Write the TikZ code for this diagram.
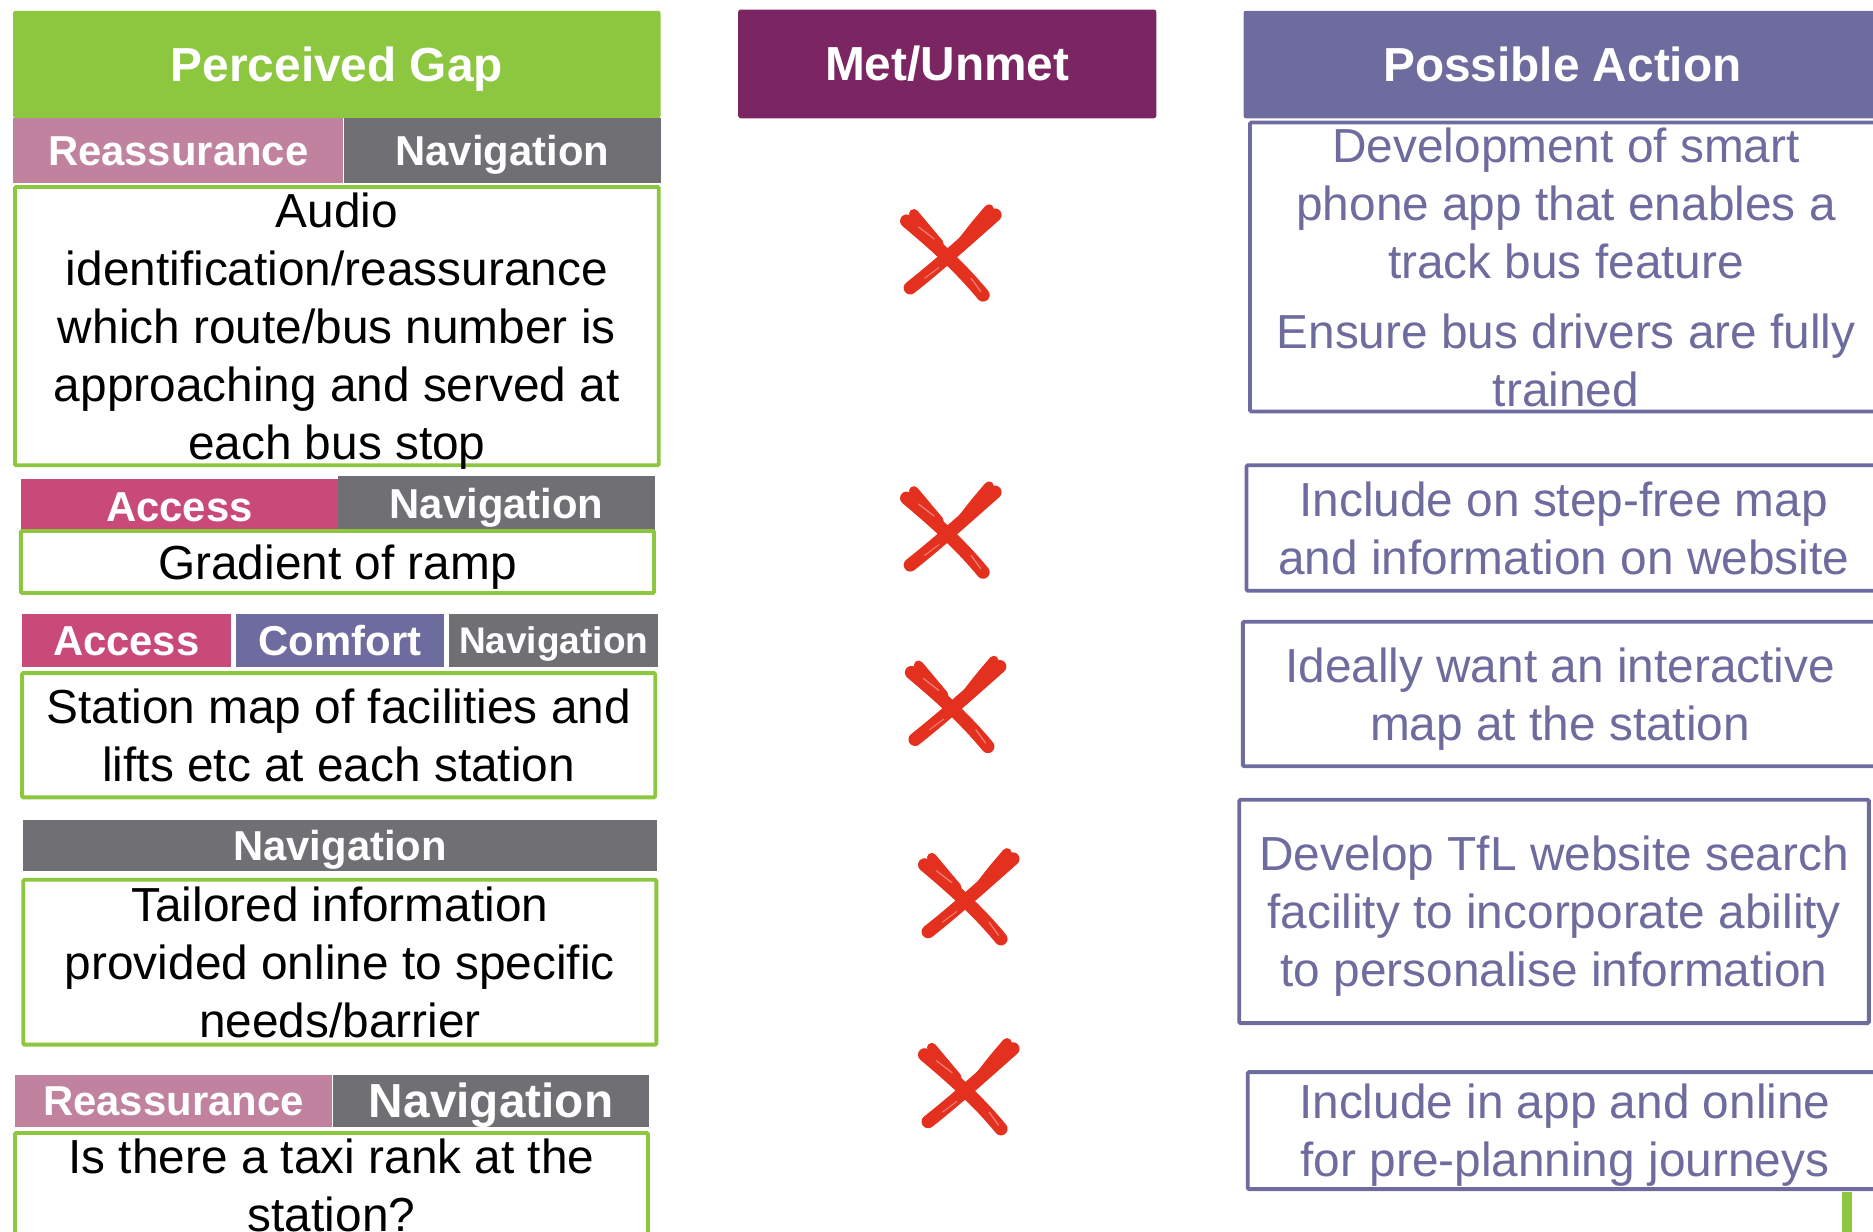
\documentclass[tikz,border=0pt]{standalone}
\usepackage{fontspec}
\setmainfont{Liberation Sans}
\usetikzlibrary{positioning}

\definecolor{gapgreen}{RGB}{141,198,63}
\definecolor{reasspink}{RGB}{192,130,158}
\definecolor{accesspink}{RGB}{201,74,120}
\definecolor{navgray}{RGB}{112,111,116}
\definecolor{actpurple}{RGB}{110,108,158}
\definecolor{metpurple}{RGB}{123,37,98}
\definecolor{crossred}{RGB}{228,48,30}

\begin{document}
\begin{tikzpicture}[x=1pt,y=-1pt,
    head/.style={rectangle,rounded corners=2pt,inner sep=0pt,text=white,
                 font=\bfseries\fontsize{40}{48}\selectfont,text height=28pt,text depth=0pt},
    tag/.style={rectangle,inner sep=0pt,text=white,
                font=\bfseries\fontsize{35}{40}\selectfont,text height=25pt,text depth=0pt},
    gap box/.style={rectangle,draw=gapgreen,line width=3.2pt,rounded corners=1pt,fill=white,
                    inner sep=0pt,align=center,font=\fontsize{40}{48.5}\selectfont,text depth=-2pt},
    action box/.style={gap box,draw=actpurple,text=actpurple},
    redx/.style={minimum size=100pt,inner sep=0pt,path picture={
        \begin{scope}[shift={(path picture bounding box.center)},scale=#1,
                      crossred,line cap=round]
          \draw[line width=11pt] (-37,-27) .. controls (-12,-6) and (8,12) .. (27,35);
          \draw[line width=8pt] (-31,-33) .. controls (-20,-21) .. (-10,-8);
          \draw[line width=11pt] (37,-32) .. controls (12,-10) and (-10,10) .. (-34,29);
          \draw[line width=8pt] (32,-37) .. controls (20,-23) .. (10,-10);
          \draw[white,line width=1pt,opacity=.4] (-27,-22) -- (-14,-12);
          \draw[white,line width=1pt,opacity=.4] (17,21) -- (25,32);
          \draw[white,line width=.8pt,opacity=.4] (-22,21) -- (-10,12);
        \end{scope}}},
    redx/.default=1]

  \useasboundingbox (0,0) rectangle (1568,1031);
  \clip (0,0) rectangle (1568,1031);

  \node[head,fill=gapgreen,minimum width=542pt,minimum height=90pt] (gaphead) at (282,54) {Perceived Gap};
  \node[head,fill=metpurple,minimum width=350pt,minimum height=91pt] (methead) at (793,53.5) {Met/Unmet};
  \node[head,fill=actpurple,minimum width=534pt,minimum height=90pt] (acthead) at (1308,54) {Possible Action};

  \node[tag,fill=reasspink,minimum width=276pt,minimum height=54pt,anchor=north west] (reass1) at (11,99) {Reassurance};
  \node[tag,fill=navgray,minimum width=266pt,minimum height=54pt] [right = 0pt of reass1] (nav1) {Navigation};
  \node[gap box,minimum width=539pt,minimum height=233pt] (gap1) at (282,273)
    {Audio\\identification/reassurance\\which route/bus number is\\approaching and served at\\each bus stop};

  \node[tag,fill=accesspink,minimum width=266pt,minimum height=45pt,anchor=north west] (acc2) at (17,401) {Access};
  \node[tag,fill=navgray,minimum width=265pt,minimum height=46pt,anchor=north west] (nav2) at (283,398) {Navigation};
  \node[gap box,minimum width=530pt,minimum height=52pt] (gap2) at (282.5,470.5) {Gradient of ramp};

  \node[tag,fill=accesspink,minimum width=175pt,minimum height=44pt,anchor=north west] (acc3) at (18,514) {Access};
  \node[tag,fill=actpurple,minimum width=174pt,minimum height=44pt] [right = 4pt of acc3] (comf3) {Comfort};
  \node[tag,fill=navgray,minimum width=175pt,minimum height=44pt,
        font=\bfseries\fontsize{31}{36}\selectfont,text height=22pt] [right = 4pt of comf3] (nav3) {Navigation};
  \node[gap box,minimum width=530pt,minimum height=104pt] (gap3) at (283.5,615.5)
    {Station map of facilities and\\lifts etc at each station};

  \node[tag,fill=navgray,minimum width=531pt,minimum height=43pt,anchor=north west] (nav4) at (19,686) {Navigation};
  \node[gap box,minimum width=530pt,minimum height=138pt] (gap4) at (284.5,805.5)
    {Tailored information\\provided online to specific\\needs/barrier};

  \node[tag,fill=reasspink,minimum width=266pt,minimum height=43pt,anchor=north west] (reass5) at (12,900) {Reassurance};
  \node[tag,fill=navgray,minimum width=265pt,minimum height=43pt,
        font=\bfseries\fontsize{40}{44}\selectfont,text height=28pt] [right = 0pt of reass5] (nav5) {Navigation};
  \node[gap box,minimum width=530pt,minimum height=87pt] (gap5) at (277.5,992)
    {Is there a taxi rank at the\\station?};

  \node[redx] (x1) at (796,212) {};
  \node[redx] (x2) at (796,444) {};
  \node[redx=.9] (x3) at (800,590) {};
  \node[redx=.9] (x4) at (811,751) {};
  \node[redx=.9] (x5) at (811,910) {};

  \node[action box,minimum width=529pt,minimum height=242pt] (act1) at (1311,223.5)
    {Development of smart\\phone app that enables a\\track bus feature\\[10pt]Ensure bus drivers are fully\\trained};
  \node[action box,minimum width=531pt,minimum height=105pt] (act2) at (1309,442)
    {Include on step-free map\\and information on website};
  \node[action box,minimum width=531pt,minimum height=121pt] (act3) at (1306,581)
    {Ideally want an interactive\\map at the station};
  \node[action box,minimum width=527pt,minimum height=187pt] (act4) at (1301,763)
    {Develop TfL website search\\facility to incorporate ability\\to personalise information};
  \node[action box,minimum width=531pt,minimum height=98pt] (act5) at (1310,946.5)
    {Include in app and online\\for pre-planning journeys};

  \fill[gapgreen] (1542,998) rectangle (1550,1034);

\end{tikzpicture}
\end{document}
